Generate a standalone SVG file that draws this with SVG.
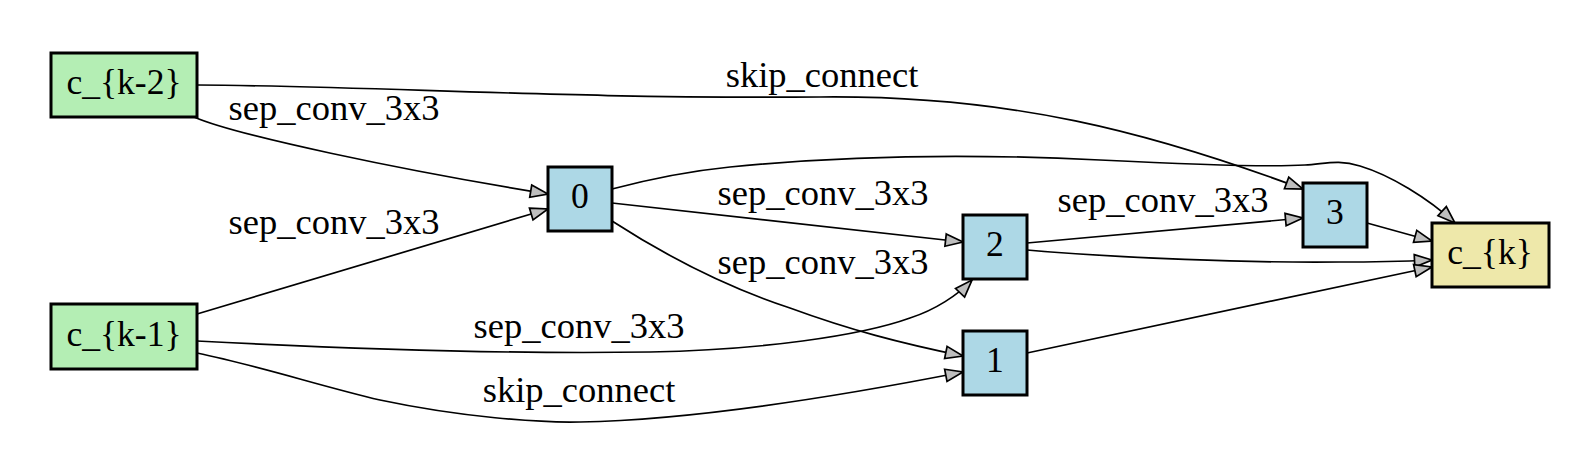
<svg xmlns="http://www.w3.org/2000/svg" width="1577" height="469" viewBox="0 0 1577 469">
<style>
.nd{stroke:#000;stroke-width:3}
.in{fill:#b4eeb4}
.mid{fill:#add8e6}
.out{fill:#eee8aa}
.e{fill:none;stroke:#000;stroke-width:1.7;marker-end:url(#ah)}
text{font-family:"Liberation Serif","Times New Roman",serif;font-size:35.6px;fill:#000;text-anchor:middle}
.lb{font-size:36.5px}
</style>
<defs>
<marker id="ah" markerUnits="userSpaceOnUse" orient="auto" refX="17.5" refY="0" markerWidth="20" markerHeight="14" overflow="visible">
<path d="M0,-6.2 L17.5,0 L0,6.2 Z" fill="#bebebe" stroke="#000" stroke-width="1.7"/>
</marker>
</defs>
<rect width="1577" height="469" fill="#fff"/>
<g id="connectors">
<path class="e" d="M194,117 C235,135 400,170 548,194"/>
<path class="e" d="M197,314 L548,209"/>
<path class="e" d="M197,85 C380,86 560,99 820,97 C1010,95 1150,132 1303,189"/>
<path class="e" d="M612,189 C650,179 690,171 730,167 C850,155 980,154 1100,160 C1200,165 1270,167 1305,165 C1325,164 1338,159 1360,166 C1390,175 1428,198 1455,223"/>
<path class="e" d="M612,203 L963,242"/>
<path class="e" d="M612,221 C660,252 720,285 790,308 C850,330 900,343 963,356"/>
<path class="e" d="M197,341 C350,349 520,354 650,352 C760,350 860,336 910,318 C935,310 958,295 972,280"/>
<path class="e" d="M197,353 C260,366 320,386 380,400 C460,417 540,423 580,422 C680,420 820,400 963,372"/>
<path class="e" d="M1027,243 L1303,218"/>
<path class="e" d="M1027,250 C1120,258 1250,263 1340,262 C1380,262 1410,261 1432,260"/>
<path class="e" d="M1367,223 L1432,241"/>
<path class="e" d="M1027,353 L1432,267"/>
<text class="lb" x="822" y="87">skip_connect</text>
<text class="lb" x="334" y="120">sep_conv_3x3</text>
<text class="lb" x="334" y="234">sep_conv_3x3</text>
<text class="lb" x="823" y="205">sep_conv_3x3</text>
<text class="lb" x="823" y="274">sep_conv_3x3</text>
<text class="lb" x="579" y="338">sep_conv_3x3</text>
<text class="lb" x="579" y="402">skip_connect</text>
<text class="lb" x="1163" y="212">sep_conv_3x3</text>
</g>
<g id="node-ck2"><rect class="nd in" x="51" y="53" width="146" height="64"/><text x="124" y="94">c_{k-2}</text></g>
<g id="node-ck1"><rect class="nd in" x="51" y="304" width="146" height="65"/><text x="124" y="346">c_{k-1}</text></g>
<g id="node-0"><rect class="nd mid" x="548" y="167" width="64" height="64"/><text x="580" y="208">0</text></g>
<g id="node-2"><rect class="nd mid" x="963" y="215" width="64" height="64"/><text x="995" y="256">2</text></g>
<g id="node-1"><rect class="nd mid" x="963" y="331" width="64" height="64"/><text x="995" y="372">1</text></g>
<g id="node-3"><rect class="nd mid" x="1303" y="183" width="64" height="64"/><text x="1335" y="224">3</text></g>
<g id="node-ck"><rect class="nd out" x="1432" y="223" width="117" height="64"/><text x="1490" y="264">c_{k}</text></g>
</svg>
